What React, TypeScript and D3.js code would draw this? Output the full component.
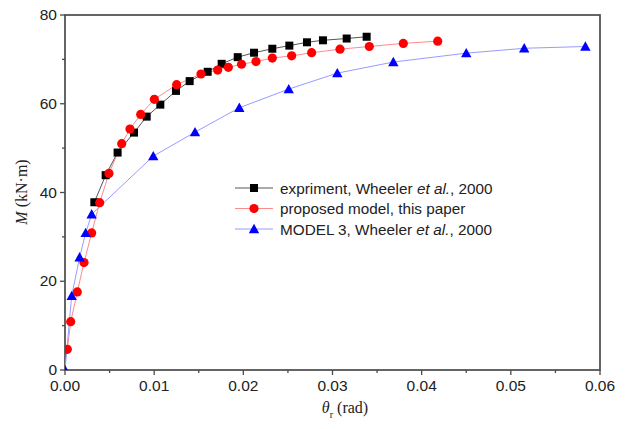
import React from "react";
import * as d3 from "d3";

// Moment–rotation data (θr in rad, M in kN·m)
const expTheta = [0.00329, 0.00456, 0.0059, 0.00774, 0.00916, 0.01069, 0.01245, 0.01398, 0.016, 0.01757, 0.01937, 0.0212, 0.02325, 0.02516, 0.02714, 0.02893, 0.03159, 0.03383];
const expM = [37.8, 43.9, 49.0, 53.5, 57.1, 59.8, 62.9, 65.1, 67.2, 69.0, 70.5, 71.5, 72.4, 73.1, 73.85, 74.3, 74.7, 75.1];

const propTheta = [0.00026, 0.00064, 0.00138, 0.00213, 0.00299, 0.00389, 0.00493, 0.00636, 0.00729, 0.00849, 0.01002, 0.01252, 0.01525, 0.01712, 0.01832, 0.0198, 0.02142, 0.02325, 0.02542, 0.02766, 0.03084, 0.03413, 0.03794, 0.0418];
const propM = [4.65, 10.9, 17.6, 24.2, 30.9, 37.7, 44.3, 51.0, 54.3, 57.6, 61.0, 64.3, 66.7, 67.6, 68.2, 68.9, 69.5, 70.3, 70.8, 71.5, 72.3, 72.9, 73.6, 74.1];

const m3Theta = [0, 0.00075, 0.00164, 0.00232, 0.00299, 0.0099, 0.01458, 0.01955, 0.02509, 0.03054, 0.03682, 0.045, 0.0515, 0.05836];
const m3M = [0, 16.7, 25.4, 30.9, 35.1, 48.2, 53.6, 59.1, 63.3, 66.9, 69.4, 71.4, 72.5, 72.9];

const xTicks = [0, 0.01, 0.02, 0.03, 0.04, 0.05, 0.06];
const yTicks = [0, 20, 40, 60, 80];

const W = 626;
const H = 429;
const left = 65, right = 600, top = 15, bottom = 370;

const x = d3.scaleLinear().domain([0, 0.06]).range([left, right]);
const y = d3.scaleLinear().domain([0, 80]).range([bottom, top]);

type Pt = [number, number];
const zip = (a: number[], b: number[]): Pt[] => a.map((v, i) => [v, b[i]]);

const line = d3.line<Pt>().x((d) => x(d[0])).y((d) => y(d[1]));

const series = [
  { name: "exp", pts: zip(expTheta, expM), line: "#555", fill: "#000", marker: "square" },
  { name: "prop", pts: zip(propTheta, propM), line: "#ff8a8a", fill: "#ff0000", marker: "circle" },
  { name: "m3", pts: zip(m3Theta, m3M), line: "#9a9aff", fill: "#0000ff", marker: "triangle" },
];

function Marker({ kind, cx, cy, fill }: { kind: string; cx: number; cy: number; fill: string }) {
  if (kind === "square") return <rect x={cx - 4} y={cy - 4} width={8} height={8} fill={fill} />;
  if (kind === "circle") return <circle cx={cx} cy={cy} r={4.6} fill={fill} />;
  const s = 5.2;
  return <path d={`M${cx},${cy - s} L${cx + s},${cy + s * 0.8} L${cx - s},${cy + s * 0.8} Z`} fill={fill} />;
}

const legendItems = [
  { kind: "square", line: "#555", fill: "#000", pre: "expriment, Wheeler ", it: "et al.", post: ", 2000" },
  { kind: "circle", line: "#ff8a8a", fill: "#ff0000", pre: "proposed model, this paper", it: "", post: "" },
  { kind: "triangle", line: "#9a9aff", fill: "#0000ff", pre: "MODEL 3, Wheeler ", it: "et al.", post: ", 2000" },
];

export default function App() {
  const xMinor = d3.range(0, 0.0601, 0.005);
  const yMinor = d3.range(0, 80.1, 10);
  const axisColor = "#4a4a4a";
  const sans = "Arial, 'Liberation Sans', sans-serif";
  const serif = "'Times New Roman', 'Liberation Serif', serif";
  return (
    <svg width={W} height={H} style={{ display: "block", position: "absolute", left: 0, top: 0, background: "#fff" }}>
      <defs>
        <clipPath id="plotClip">
          <rect x={left} y={top - 10} width={right - left + 10} height={bottom - top + 10} />
        </clipPath>
      </defs>
      {/* frame */}
      <rect x={left} y={top} width={right - left} height={bottom - top} fill="none" stroke={axisColor} strokeWidth={1.7} />
      {/* x ticks */}
      {xMinor.map((t, i) => (
        <line key={"xm" + i} x1={x(t)} x2={x(t)} y1={bottom} y2={bottom + (i % 2 === 0 ? 5 : 3)} stroke={axisColor} strokeWidth={1.3} />
      ))}
      {xTicks.map((t) => (
        <text key={"xl" + t} x={x(t)} y={bottom + 21} textAnchor="middle" fontFamily={sans} fontSize={15.5} fill="#222">
          {t.toFixed(2)}
        </text>
      ))}
      {/* y ticks */}
      {yMinor.map((t, i) => (
        <line key={"ym" + i} x1={left} x2={left - (i % 2 === 0 ? 5 : 3)} y1={y(t)} y2={y(t)} stroke={axisColor} strokeWidth={1.3} />
      ))}
      {yTicks.map((t) => (
        <text key={"yl" + t} x={left - 8} y={y(t) + 5} textAnchor="end" fontFamily={sans} fontSize={15.5} fill="#222">
          {t}
        </text>
      ))}
      {/* axis titles */}
      <text x={345} y={413} textAnchor="middle" fontFamily={serif} fontSize={16} fill="#222">
        <tspan fontStyle="italic">θ</tspan>
        <tspan fontSize={10} dy={5}>r</tspan>
        <tspan dy={-5}> (rad)</tspan>
      </text>
      <text transform={`translate(27,192) rotate(-90)`} textAnchor="middle" fontFamily={serif} fontSize={16} fill="#222">
        <tspan fontStyle="italic">M</tspan>
        <tspan> (kN·m)</tspan>
      </text>
      {/* series */}
      <g clipPath="url(#plotClip)">
        {series.map((s) => (
          <path key={s.name} d={line(s.pts) || ""} fill="none" stroke={s.line} strokeWidth={1} />
        ))}
        {series.map((s) =>
          s.pts.map((p, i) => <Marker key={s.name + i} kind={s.marker} cx={x(p[0])} cy={y(p[1])} fill={s.fill} />)
        )}
      </g>
      {/* legend */}
      {legendItems.map((it, i) => {
        const ly = 188 + i * 20.5;
        return (
          <g key={"lg" + i}>
            <line x1={235} x2={273} y1={ly} y2={ly} stroke={it.line} strokeWidth={1} />
            <Marker kind={it.kind} cx={254} cy={ly} fill={it.fill} />
            <text x={280} y={ly + 5.5} fontFamily={sans} fontSize={15.3} fill="#222">
              {it.pre}
              {it.it && <tspan fontStyle="italic">{it.it}</tspan>}
              {it.post}
            </text>
          </g>
        );
      })}
    </svg>
  );
}
